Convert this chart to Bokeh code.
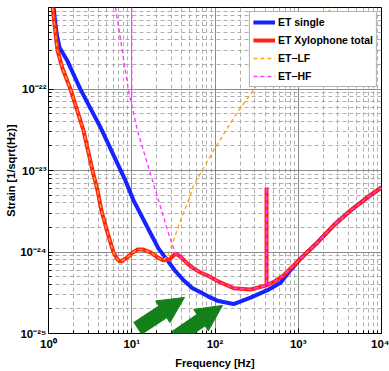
from bokeh.plotting import figure
from bokeh.models import (Range1d, FixedTicker, CustomJSTickFormatter, Arrow, NormalHead)
from bokeh.embed import file_html
from bokeh.resources import INLINE

nan = float("nan")

# ---- data ----
single_f = [1.15, 1.25, 1.36, 1.69, 2.42, 4.2, 8.41, 10.5, 16.8, 21, 26.9, 33.5, 41.9, 53.7,
            67, 83.5, 110, 167, 267, 427, 612, 807, 1064, 1702, 2650, 4245, 6790, 10000]
single_h = [1.0e-21, 4.8e-22, 3.2e-22, 2.2e-22, 9.9e-23, 3.4e-23, 7.5e-24, 4.3e-24, 1.7e-24, 1.1e-24,
            7.9e-25, 5.8e-25, 4.5e-25, 3.6e-25, 3.2e-25, 2.84e-25, 2.5e-25, 2.3e-25, 2.75e-25, 3.4e-25,
            4.2e-25, 6.0e-25, 8.3e-25, 1.31e-24, 2.11e-24, 3.23e-24, 4.67e-24, 6.2e-24]

total_f = [1.12, 1.28, 1.47, 1.84, 2.63, 3.38, 3.88, 4.33, 5.11, 6.04, 6.74, 7.33, 8.89, 9.93,
           11.7, 13.8, 16.8, 20.4, 24.1, 28.4, 30.9, 33.5, 36.5, 40.7, 46.7, 55.2, 67, 81.3, 110,
           167, 267, 416, 416, 416, 518, 665, 807, 1064, 1702, 2650, 4245, 6790, 10000]
total_h = [1.0e-21, 3.0e-22, 1.8e-22, 9.9e-23, 3.1e-23, 1.0e-23, 5.7e-24, 3.2e-24, 1.73e-24, 9.9e-25,
           8.1e-25, 7.6e-25, 8.6e-25, 9.6e-25, 1.07e-24, 1.07e-24, 9.9e-25, 8.6e-25, 7.9e-25, 8.1e-25,
           8.8e-25, 9.5e-25, 9.1e-25, 8.3e-25, 7.2e-25, 6.3e-25, 5.6e-25, 5.15e-25, 4.35e-25, 3.6e-25,
           3.47e-25, 3.9e-25, 6.2e-24, 3.9e-25, 4.35e-25, 5.15e-25, 6.3e-25, 8.3e-25, 1.31e-24,
           2.11e-24, 3.23e-24, 4.67e-24, 6.2e-24]

lf_f = [1.12, 1.28, 1.47, 1.84, 2.63, 3.38, 3.88, 4.33, 5.11, 6.04, 6.74, 7.33, 8.89, 9.93,
        11.7, 13.8, 16.8, 20.4, 24.1, 27.0, 30.9, 38.5, 48.1, 55.2, 96, 186, 352, 807, 2600]
lf_h = [1.0e-21, 3.0e-22, 1.8e-22, 9.9e-23, 3.1e-23, 1.0e-23, 5.7e-24, 3.2e-24, 1.73e-24, 9.9e-25,
        8.1e-25, 7.6e-25, 8.6e-25, 9.6e-25, 1.07e-24, 1.07e-24, 9.9e-25, 8.6e-25, 7.9e-25, 9.1e-25,
        1.27e-24, 2.44e-24, 4.3e-24, 6.5e-24, 1.76e-23, 5.2e-23, 1.27e-22, 3.4e-22, 1.0e-21]

hf_f = [10, 10, nan, 6.38, 7.53, 9.14, 11.7, 18.2, 21, 27.6, 33.5, 36.5, 40.7, 46.7, 55.2, 67,
        81.3, 110, 167, 267, 416, 416, 416, 518, 665, 807, 1064, 1702, 2650, 4245, 6790, 10000]
hf_h = [1.0e-21, 8.0e-23, nan, 1.0e-21, 3.4e-22, 9.6e-23, 3.1e-23, 6.9e-24, 4.3e-24, 1.7e-24,
        9.5e-25, 9.1e-25, 8.3e-25, 7.2e-25, 6.3e-25, 5.6e-25, 5.15e-25, 4.35e-25, 3.6e-25, 3.47e-25,
        3.9e-25, 6.2e-24, 3.9e-25, 4.35e-25, 5.15e-25, 6.3e-25, 8.3e-25, 1.31e-24, 2.11e-24,
        3.23e-24, 4.67e-24, 6.2e-24]

# green highlight arrows: (f_start, h_start, f_end, h_end)
arrows = [(11.7, 1.15e-25, 43.0, 2.77e-25),
          (33.5, 8.9e-26, 123.0, 2.21e-25)]

x_ticks = [1, 10, 100, 1000, 10000]
y_ticks = [1e-25, 1e-24, 1e-23, 1e-22]
x_minor = [m * 10 ** d for d in range(0, 4) for m in range(2, 10)]
y_minor = [m * 10.0 ** d for d in range(-25, -21) for m in range(2, 10)]

FONT = "Liberation Sans"

p = figure(width=389, height=371, x_axis_type="log", y_axis_type="log",
           x_range=Range1d(1, 1e4), y_range=Range1d(1e-25, 1e-21),
           output_backend="svg", toolbar_location=None,
           min_border_left=48, min_border_right=8, min_border_top=7, min_border_bottom=38)

p.background_fill_color = "white"
p.border_fill_color = "white"
p.outline_line_color = "black"
p.outline_line_width = 1

xt = FixedTicker(ticks=x_ticks, minor_ticks=x_minor)
yt = FixedTicker(ticks=y_ticks, minor_ticks=y_minor)
p.xaxis.ticker = xt
p.yaxis.ticker = yt
p.xgrid.ticker = xt
p.ygrid.ticker = yt

fmt_code = """
const sup = {"-": "\u207b", "0": "\u2070", "1": "\u00b9", "2": "\u00b2", "3": "\u00b3",
             "4": "\u2074", "5": "\u2075", "6": "\u2076", "7": "\u2077", "8": "\u2078", "9": "\u2079"};
const e = Math.round(Math.log10(tick));
return "10" + String(e).split("").map(c => sup[c]).join("");
"""
for ax in (p.xaxis[0], p.yaxis[0]):
    ax.formatter = CustomJSTickFormatter(code=fmt_code)
    ax.major_label_text_font = FONT
    ax.major_label_text_font_style = "bold"
    ax.major_label_text_font_size = "11.5px"
    ax.major_label_text_color = "black"
    ax.axis_label_text_font = FONT
    ax.axis_label_text_font_style = "bold"
    ax.axis_label_text_font_size = "11px"
    ax.axis_label_text_color = "black"
    ax.axis_line_color = "black"
    ax.major_tick_in = 5
    ax.major_tick_out = 0
    ax.minor_tick_in = 3
    ax.minor_tick_out = 0
    ax.major_tick_line_color = "black"
    ax.minor_tick_line_color = "black"

p.xaxis.axis_label = "Frequency [Hz]"
p.yaxis.axis_label = "Strain [1/sqrt(Hz)]"
p.xaxis.major_label_standoff = 4
p.xaxis.axis_label_standoff = 4
p.yaxis.major_label_standoff = 2
p.yaxis.axis_label_standoff = 0

for g in (p.xgrid[0], p.ygrid[0]):
    g.grid_line_color = "#6e6e6e"
    g.grid_line_width = 0.8
    g.minor_grid_line_color = "#9a9a9a"
    g.minor_grid_line_width = 0.8
    g.minor_grid_line_dash = "4 3"

BLUE = "#1523ff"
RED = "#ff2415"
ORANGE = "#ffa31a"
MAGENTA = "#ff3cff"
GREEN = "#13801a"

p.line(single_f, single_h, line_color=BLUE, line_width=4, legend_label="ET single")
p.line(total_f, total_h, line_color=RED, line_width=4, legend_label="ET Xylophone total")
p.line(lf_f, lf_h, line_color=ORANGE, line_width=1.4, line_dash="4 3", legend_label="ET\u2212LF")
p.line(hf_f, hf_h, line_color=MAGENTA, line_width=1.4, line_dash="4 3", legend_label="ET\u2212HF")

for (xs, ys, xe, ye) in arrows:
    p.add_layout(Arrow(end=NormalHead(size=26, fill_color=GREEN, line_color=GREEN, line_width=1),
                       x_start=xs, y_start=ys, x_end=xe, y_end=ye,
                       line_color=GREEN, line_width=15))

lg = p.legend[0]
lg.location = "top_right"
lg.margin = 4
lg.padding = 3
lg.spacing = 4
lg.glyph_width = 22
lg.glyph_height = 14
lg.label_height = 14
lg.label_standoff = 3
lg.label_text_font = FONT
lg.label_text_font_style = "bold"
lg.label_text_font_size = "10.5px"
lg.label_text_color = "black"
lg.border_line_color = "#666666"
lg.border_line_width = 1
lg.background_fill_color = "white"
lg.background_fill_alpha = 1.0

open("out.html", "w").write(file_html(p, INLINE))
